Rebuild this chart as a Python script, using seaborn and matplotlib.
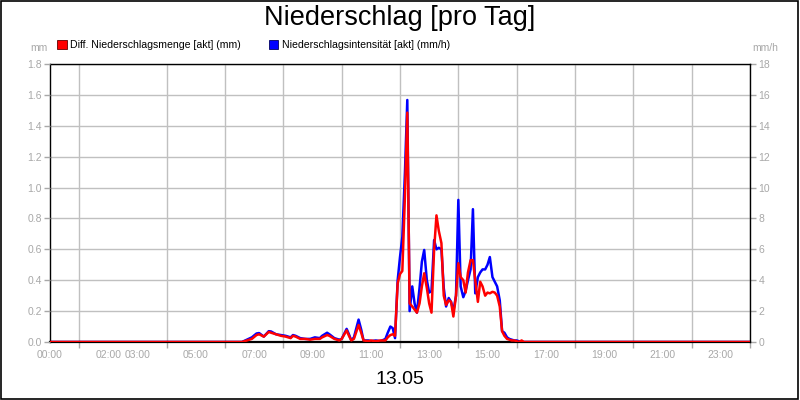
import matplotlib
matplotlib.use("Agg")
import matplotlib.pyplot as plt
import matplotlib.patches as mpatches
import seaborn as sns
import pandas as pd

# time of day in hours
hours = [0.0, 6.5, 6.58, 6.75, 6.92, 7.08, 7.17, 7.33, 7.5, 7.58, 7.75, 7.92,
         8.08, 8.25, 8.33, 8.42, 8.58, 8.75, 8.92, 9.08, 9.25, 9.33, 9.5, 9.58,
         9.75, 9.92, 10.0, 10.17, 10.25, 10.33, 10.42, 10.58, 10.67, 10.75, 10.92,
         11.0, 11.17, 11.33, 11.5, 11.58, 11.67, 11.75, 11.83, 11.92, 12.0, 12.08,
         12.17, 12.25, 12.33, 12.42, 12.5, 12.58, 12.67, 12.75, 12.83, 12.92, 13.0,
         13.08, 13.17, 13.25, 13.33, 13.42, 13.5, 13.58, 13.67, 13.75, 13.83, 13.92,
         14.0, 14.08, 14.17, 14.25, 14.33, 14.42, 14.5, 14.58, 14.67, 14.75, 14.83,
         14.92, 15.0, 15.08, 15.17, 15.25, 15.33, 15.42, 15.5, 15.58, 15.67, 15.75,
         15.83, 15.92, 16.0, 16.08, 16.17, 16.25, 24.0]

# Diff. Niederschlagsmenge (mm)
menge = [0.0, 0.0, 0.0, 0.01, 0.02, 0.045, 0.05, 0.035, 0.065, 0.06, 0.05, 0.04,
         0.035, 0.025, 0.04, 0.035, 0.02, 0.02, 0.015, 0.02, 0.02, 0.03, 0.045, 0.04,
         0.02, 0.01, 0.02, 0.075, 0.04, 0.01, 0.02, 0.11, 0.06, 0.01, 0.005,
         0.01, 0.005, 0.01, 0.01, 0.03, 0.045, 0.05, 0.04, 0.38, 0.44, 0.46,
         0.95, 1.485, 0.25, 0.23, 0.21, 0.19, 0.25, 0.36, 0.445, 0.35, 0.25,
         0.19, 0.60, 0.82, 0.72, 0.64, 0.30, 0.24, 0.27, 0.26, 0.165, 0.30,
         0.51, 0.42, 0.40, 0.32, 0.45, 0.53, 0.53, 0.40, 0.26, 0.39, 0.36,
         0.30, 0.32, 0.315, 0.325, 0.32, 0.30, 0.23, 0.07, 0.04, 0.02, 0.015,
         0.01, 0.01, 0.005, 0.0, 0.01, 0.0, 0.0]

# Niederschlagsintensitaet (mm/h)
intensitaet = [0.0, 0.0, 0.0, 0.15, 0.3, 0.55, 0.58, 0.35, 0.7, 0.68, 0.5, 0.45,
               0.4, 0.3, 0.45, 0.4, 0.25, 0.2, 0.2, 0.3, 0.25, 0.4, 0.6, 0.5,
               0.25, 0.15, 0.2, 0.85, 0.5, 0.1, 0.3, 1.45, 0.8, 0.1, 0.1,
               0.05, 0.1, 0.05, 0.2, 0.6, 1.0, 0.9, 0.25, 4.0, 5.5, 6.8,
               11.0, 15.67, 2.0, 3.6, 2.5, 1.9, 3.5, 5.2, 5.96, 4.0, 3.2,
               3.3, 6.6, 6.0, 6.1, 6.0, 3.5, 2.3, 2.85, 2.6, 2.0, 3.0,
               9.2, 3.6, 2.9, 3.3, 4.0, 4.7, 8.6, 3.15, 4.2, 4.5, 4.7,
               4.7, 5.0, 5.5, 4.2, 3.9, 3.6, 2.7, 0.7, 0.6, 0.3, 0.2,
               0.15, 0.1, 0.1, 0.05, 0.0, 0.0, 0.0]

x_ticks = [0, 2, 3, 5, 7, 9, 11, 13, 15, 17, 19, 21, 23]
x_labels = ["00:00", "02:00", "03:00", "05:00", "07:00", "09:00", "11:00",
            "13:00", "15:00", "17:00", "19:00", "21:00", "23:00"]
mm_ticks = [0.0, 0.2, 0.4, 0.6, 0.8, 1.0, 1.2, 1.4, 1.6, 1.8]
mmh_ticks = [0, 2, 4, 6, 8, 10, 12, 14, 16, 18]

df = pd.DataFrame({"Zeit": hours, "Menge": menge, "Intensitaet": intensitaet})

sns.set_style("white")
plt.rcParams['font.family'] = ['Liberation Sans', 'DejaVu Sans']
plt.rcParams['text.color'] = 'black'
grey = "#a8a8a8"

fig = plt.figure(figsize=(8, 4), dpi=100)
# bottom axes: blue series (mm/h), grid, right scale
ax = fig.add_axes([50 / 800, 1 - 342 / 400, 700 / 800, 278 / 400])
sns.lineplot(data=df, x="Zeit", y="Intensitaet", ax=ax, color="#0000ff", lw=1.8)

# top axes: red series (mm), left scale
ax2 = ax.twinx()
sns.lineplot(data=df, x="Zeit", y="Menge", ax=ax2, color="#ff0000", lw=1.8)

ax.set_ylim(0, 18)
ax.set_xlim(0, 24)
ax.yaxis.tick_right()
ax.set_yticks(mmh_ticks)
ax.set_yticklabels([str(t) for t in mmh_ticks])
ax.set_xticks(x_ticks)
ax.set_xticklabels(x_labels)
ax.set_xticks(range(0, 25), minor=True)
ax.grid(True, axis="x", which="minor", color="#c0c0c0", lw=1)
ax.grid(True, axis="y", which="major", color="#c0c0c0", lw=1)
ax.tick_params(axis="both", which="both", colors=grey, labelsize=7.5,
               direction="out", length=4, width=1, pad=2)
ax.tick_params(axis="x", which="minor", bottom=True, length=4)
ax.tick_params(axis="y", right=True, left=False, labelright=True, labelleft=False)
ax.set_xlabel("")
ax.set_ylabel("")
for s in ax.spines.values():
    s.set_color("black")
    s.set_linewidth(1)
ax.spines["bottom"].set_linewidth(1.6)

ax2.set_ylim(0, 1.8)
ax2.yaxis.tick_left()
ax2.set_yticks(mm_ticks)
ax2.set_yticklabels([f"{t:.1f}" for t in mm_ticks])
ax2.tick_params(axis="y", colors=grey, labelsize=7.5, direction="out",
                length=4, width=1, pad=2, left=True, right=False,
                labelleft=True, labelright=False)
ax2.set_ylabel("")
for s in ax2.spines.values():
    s.set_visible(False)

fig.text(0.5, 1 - 18 / 400, "Niederschlag [pro Tag]", ha="center", va="center",
         fontsize=19.5, color="black")
fig.text(48 / 800, 1 - 48 / 400, "mm", ha="right", va="center", color=grey,
         fontsize=7.5)
fig.text(765 / 800, 1 - 48 / 400, "mm/h", ha="center", va="center", color=grey,
         fontsize=7.5)
fig.text(0.5, 1 - 380 / 400, "13.05", ha="center", va="center", fontsize=14,
         color="black")

handles = [mpatches.Patch(facecolor="#ff0000", edgecolor="#600000", lw=0.6),
           mpatches.Patch(facecolor="#0000ff", edgecolor="#000060", lw=0.6)]
labels = ["Diff. Niederschlagsmenge [akt] (mm)", "Niederschlagsintensität [akt] (mm/h)"]
leg = fig.legend(handles, labels, loc="center left",
                 bbox_to_anchor=(57 / 800, 1 - 45 / 400), ncol=2, frameon=False,
                 fontsize=7.6, handlelength=0.9, handleheight=0.9,
                 handletextpad=0.3, columnspacing=2.7, borderaxespad=0, borderpad=0)
for t in leg.get_texts():
    t.set_color("black")

fig.patches.append(mpatches.Rectangle((0.001, 0.002), 0.997, 0.996,
                                      transform=fig.transFigure, fill=False,
                                      edgecolor="black", lw=1.2))

fig.savefig("out.png", dpi=100)
